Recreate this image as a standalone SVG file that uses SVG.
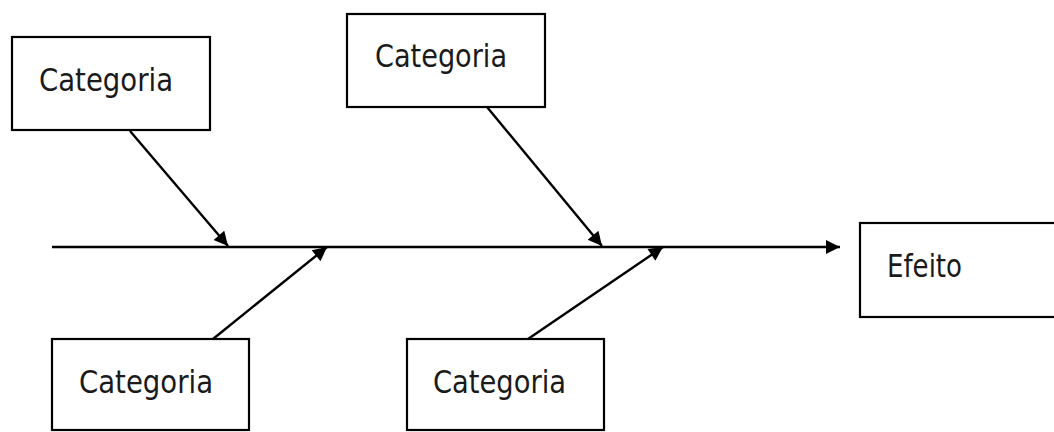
<svg xmlns="http://www.w3.org/2000/svg" width="1054" height="432" viewBox="0 0 1054 432">
<style>
.box{fill:#fff;stroke:#000;stroke-width:2.2}
.lbl{font-family:"DejaVu Sans Condensed","DejaVu Sans",sans-serif;font-size:32px;fill:#1a1a1a}
.ln{stroke:#000;stroke-width:2.4;fill:none}
</style>
<defs>
<marker id="ah" viewBox="0 0 10 10" refX="10" refY="5" markerWidth="18" markerHeight="14" markerUnits="userSpaceOnUse" orient="auto">
<path d="M0,0 L10,5 L0,10 Z" fill="#000"/>
</marker>
</defs>
<rect width="1054" height="432" fill="#fff"/>
<g id="connectors">
<line class="ln" x1="52" y1="247" x2="840" y2="247" marker-end="url(#ah)"/>
<line class="ln" x1="130" y1="131" x2="228" y2="246" marker-end="url(#ah)"/>
<line class="ln" x1="487" y1="107" x2="602" y2="246" marker-end="url(#ah)"/>
<line class="ln" x1="213" y1="339" x2="327" y2="247" marker-end="url(#ah)"/>
<line class="ln" x1="528" y1="339" x2="663" y2="247" marker-end="url(#ah)"/>
</g>
<g id="cat1">
<rect class="box" x="12" y="37" width="198" height="93"/>
<text class="lbl" x="39" y="91" textLength="134" lengthAdjust="spacingAndGlyphs">Categoria</text>
</g>
<g id="cat2">
<rect class="box" x="347" y="14" width="198" height="93"/>
<text class="lbl" x="375" y="67" textLength="132" lengthAdjust="spacingAndGlyphs">Categoria</text>
</g>
<g id="cat3">
<rect class="box" x="52" y="339" width="197" height="91"/>
<text class="lbl" x="79" y="393" textLength="134" lengthAdjust="spacingAndGlyphs">Categoria</text>
</g>
<g id="cat4">
<rect class="box" x="407" y="339" width="197" height="91"/>
<text class="lbl" x="433" y="393" textLength="133" lengthAdjust="spacingAndGlyphs">Categoria</text>
</g>
<g id="efeito">
<rect class="box" x="860" y="223" width="200" height="94"/>
<text class="lbl" x="887" y="277" textLength="75" lengthAdjust="spacingAndGlyphs">Efeito</text>
</g>
</svg>
